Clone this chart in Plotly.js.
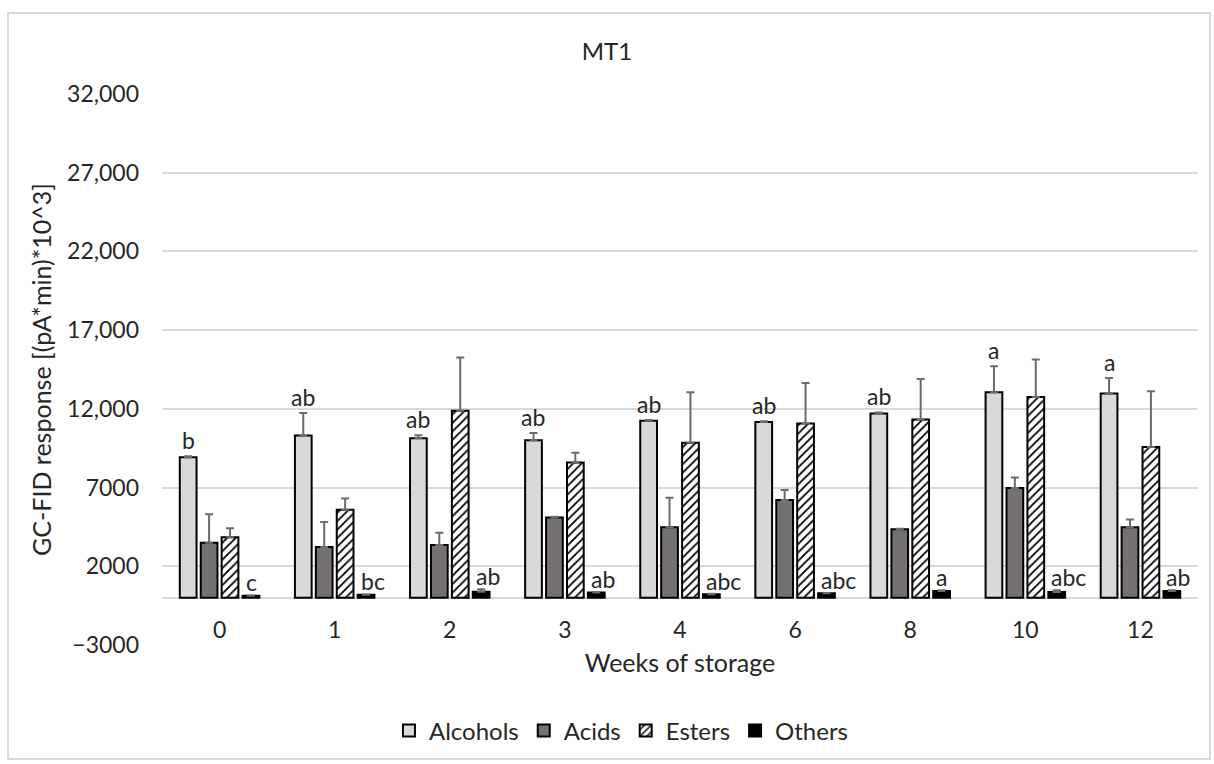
<!DOCTYPE html>
<html>
<head>
<meta charset="utf-8">
<script src="https://cdn.plot.ly/plotly-3.0.1.min.js"></script>
<style>
  html, body { margin: 0; padding: 0; background: #fff; }
  #chart { width: 1214px; height: 764px; }
</style>
</head>
<body>
<div id="chart"></div>
<script>
// ---- Data ----
const weeks = ['0', '1', '2', '3', '4', '6', '8', '10', '12'];

const alcohols    = [8930, 10300, 10130, 10000, 11240, 11160, 11710, 13060, 12980];
const alcoholsErr = [60, 1430, 190, 470, 60, 60, 60, 1650, 980];

const acids    = [3490, 3230, 3360, 5100, 4480, 6210, 4350, 6980, 4480];
const acidsErr = [1820, 1580, 770, 40, 1880, 640, 30, 660, 490];

const esters    = [3850, 5590, 11880, 8590, 9850, 11070, 11330, 12760, 9570];
const estersErr = [560, 710, 3380, 620, 3210, 2570, 2570, 2380, 3550];

const others    = [130, 190, 390, 340, 220, 280, 430, 370, 430];
const othersErr = [20, 20, 150, 30, 40, 30, 40, 100, 40];

const alcoholLetters = ['b', 'ab', 'ab', 'ab', 'ab', 'ab', 'ab', 'a', 'a'];
const otherLetters   = ['c', 'bc', 'ab', 'ab', 'abc', 'abc', 'a', 'abc', 'ab'];

const yTickVals = [-3000, 2000, 7000, 12000, 17000, 22000, 27000, 32000];
const yTickText = ['\u22123000', '2000', '7000', '12,000', '17,000', '22,000', '27,000', '32,000'];

// ---- Styles ----
const FONT = 'Lato, Carlito, Calibri, "Open Sans", sans-serif';
const TXT = '#262626';
const zeros = weeks.map(() => 0);

function errBar(arr) {
  return { type: 'data', array: arr, arrayminus: zeros, symmetric: false,
           visible: true, color: '#6b6b6b', thickness: 2, width: 4 };
}

const traces = [
  { type: 'bar', name: 'Alcohols', x: weeks, y: alcohols,
    marker: { color: '#d9d9d9', line: { color: '#000', width: 2 } },
    error_y: errBar(alcoholsErr) },
  { type: 'bar', name: 'Acids', x: weeks, y: acids,
    marker: { color: '#767171', line: { color: '#000', width: 2 } },
    error_y: errBar(acidsErr) },
  { type: 'bar', name: 'Esters', x: weeks, y: esters,
    marker: { color: '#ffffff', line: { color: '#000', width: 2 },
              pattern: { shape: '/', fgcolor: '#000', bgcolor: '#fff', size: 6, solidity: 0.3 } },
    error_y: errBar(estersErr) },
  { type: 'bar', name: 'Others', x: weeks, y: others,
    marker: { color: '#000', line: { color: '#000', width: 2 } },
    error_y: errBar(othersErr) }
];

// Category axis: annotations are positioned by category index
const annotations = [];
weeks.forEach((w, i) => {
  annotations.push({
    x: i, y: alcohols[i] + alcoholsErr[i], xref: 'x', yref: 'y',
    text: alcoholLetters[i], showarrow: false, xanchor: 'center', yanchor: 'bottom',
    xshift: -31.4, yshift: 0, font: { family: FONT, size: 23, color: TXT }
  });
  annotations.push({
    x: i, y: others[i] + othersErr[i], xref: 'x', yref: 'y',
    text: otherLetters[i], showarrow: false, xanchor: 'left', yanchor: 'bottom',
    xshift: 24, yshift: -3, font: { family: FONT, size: 23, color: TXT }
  });
});

const yMin = -3000, yMax = 32000;

const layout = {
  width: 1214, height: 764,
  paper_bgcolor: '#fff', plot_bgcolor: '#fff',
  margin: { l: 162, r: 16, t: 94, b: 119 },
  font: { family: FONT, size: 23, color: TXT },
  title: { text: 'MT1', x: 0.5, xref: 'container', y: 1 - 52 / 764, yref: 'container',
           yanchor: 'middle', font: { family: FONT, size: 24, color: TXT } },
  barmode: 'group', bargap: 0.273, bargroupgap: 0.2,
  showlegend: true,
  legend: { orientation: 'h', xref: 'container', yref: 'container', x: 0.5115, xanchor: 'center',
            y: 1 - 731 / 764, yanchor: 'middle', font: { family: FONT, size: 24, color: TXT },
            itemwidth: 30, traceorder: 'normal' },
  xaxis: {
    type: 'category', anchor: 'free', position: (0 - yMin) / (yMax - yMin),
    range: [-0.5, weeks.length - 0.5],
    showgrid: false, showline: false, zeroline: false, ticks: '',
    ticklabelstandoff: 16,
    tickfont: { family: FONT, size: 23, color: TXT },
    title: { text: 'Weeks of storage', standoff: 12, font: { family: FONT, size: 25, color: TXT } }
  },
  yaxis: {
    range: [yMin, yMax], tickvals: yTickVals, ticktext: yTickText,
    showgrid: true, gridcolor: '#d9d9d9', gridwidth: 2,
    zeroline: true, zerolinecolor: '#d9d9d9', zerolinewidth: 2,
    showline: false, ticks: '', ticklabelstandoff: 22,
    tickfont: { family: FONT, size: 23, color: TXT },
    title: { text: 'GC-FID response [(pA*min)*10^3]', standoff: 8,
             font: { family: FONT, size: 25, color: TXT } }
  },
  annotations: annotations,
  shapes: [{
    type: 'rect', xref: 'paper', yref: 'paper', layer: 'below',
    x0: (8 - 162) / 1036, x1: (1210 - 162) / 1036,
    y0: (645 - 759) / 551, y1: (645 - 13) / 551,
    line: { color: '#d9d9d9', width: 2 }, fillcolor: 'rgba(0,0,0,0)'
  }]
};

Plotly.newPlot('chart', traces, layout, { displayModeBar: false, staticPlot: true });
</script>
</body>
</html>
